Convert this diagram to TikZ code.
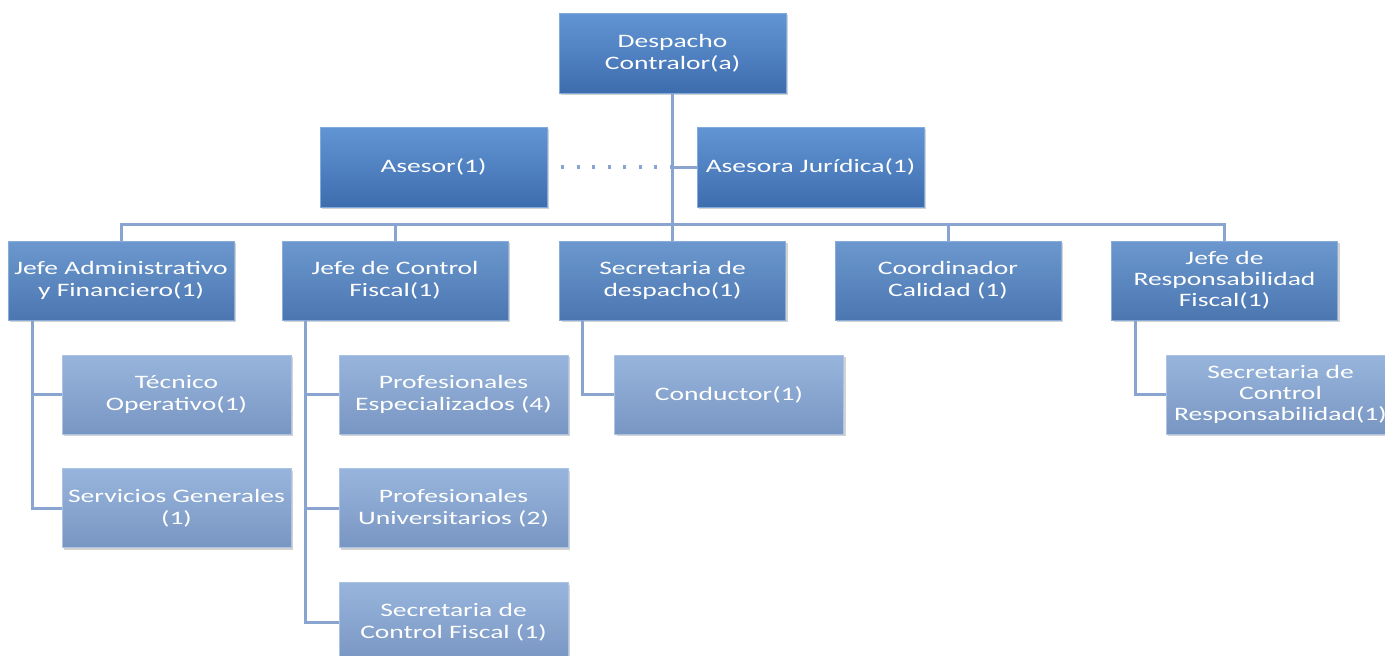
\documentclass[tikz,border=0pt]{standalone}
\usepackage{fontspec}
\setmainfont{Carlito}[FakeStretch=1.45]
\usetikzlibrary{shadows}

\definecolor{lineblue}{HTML}{8AA4D0}
\definecolor{topA}{HTML}{6295D4}
\definecolor{botA}{HTML}{3E6DAE}
\definecolor{topB}{HTML}{6C98CF}
\definecolor{botB}{HTML}{4B76B0}
\definecolor{topC}{HTML}{97B5DC}
\definecolor{botC}{HTML}{7896C2}

\tikzset{
  box/.style={align=center, text=white, inner sep=0pt,
    font=\fontsize{19}{22}\selectfont,
    drop shadow={shadow xshift=2pt, shadow yshift=-2pt, opacity=.35}},
  headbox/.style={box, minimum width=227pt, minimum height=80pt,
    top color=topA, bottom color=botA, draw=topA!80!white},
  chiefbox/.style={box, minimum width=226pt, minimum height=79pt,
    top color=topB, bottom color=botB, draw=topB!80!white},
  staffbox/.style={box, minimum width=229pt, minimum height=79pt,
    top color=topC, bottom color=botC, draw=topC!80!white},
  link/.style={draw=lineblue, line width=3pt},
}

\begin{document}
\begin{tikzpicture}[x=1pt, y=-1pt]
  \clip (0,0) rectangle (1385,656);
  \fill[white] (0,0) rectangle (1385,656);

  \node[headbox] (desp) at (672.5, 53) {Despacho\\Contralor(a)};
  \node[headbox] (ases) at (433.5, 167) {Asesor(1)};
  \node[headbox] (jur) at (810.5, 167) {Asesora Jurídica(1)};

  \node[chiefbox] (jadm) at (121, 280.5) {Jefe Administrativo\\y Financiero(1)};
  \node[chiefbox] (jcf) at (395, 280.5) {Jefe de Control\\Fiscal(1)};
  \node[chiefbox] (sdesp) at (672.5, 280.5) {Secretaria de\\despacho(1)};
  \node[chiefbox] (coord) at (948, 280.5) {Coordinador\\Calidad (1)};
  \node[chiefbox, font=\fontsize{19}{21}\selectfont] (jrf) at (1224.5, 280.5) {Jefe de\\Responsabilidad\\Fiscal(1)};

  \node[staffbox] (tec) at (176.5, 394.5) {Técnico\\Operativo(1)};
  \node[staffbox] (serv) at (176.5, 508) {Servicios Generales\\(1)};
  \node[staffbox] (pesp) at (453.5, 394.5) {Profesionales\\Especializados (4)};
  \node[staffbox] (puni) at (453.5, 508) {Profesionales\\Universitarios (2)};
  \node[staffbox] (scf) at (453.5, 622) {Secretaria de\\Control Fiscal (1)};
  \node[staffbox] (cond) at (729, 394.5) {Conductor(1)};
  \node[staffbox, font=\fontsize{19}{21}\selectfont] (scr) at (1280.5, 394.5) {Secretaria de\\Control\\Responsabilidad(1)};

  \coordinate (bus) at (672.5, 224);

  % despacho -> bus
  \draw[link] (desp.south) -- (bus);

  % asesor -> despacho line
  \draw[draw=lineblue, line width=3.5pt, dash pattern=on 3pt off 12.5pt] (ases.east) ++(14pt,0) -- (ases.east -| desp.south);

  % despacho line -> asesora
  \draw[link] (ases.east -| desp.south) -- (jur.west);

  % bus -> jefes
  \draw[link] (jadm.north) |- (bus) -| (jrf.north);
  \draw[link] (jcf.north) -- (jcf.north |- bus);
  \draw[link] (sdesp.north) -- (bus);
  \draw[link] (coord.north) -- (coord.north |- bus);

  % jefe administrativo -> staff
  \draw[link] ([xshift=25pt]jadm.south west) |- (tec.west);
  \draw[link] ([xshift=25pt]jadm.south west) |- (serv.west);

  % jefe control fiscal -> staff
  \draw[link] ([xshift=24pt]jcf.south west) |- (pesp.west);
  \draw[link] ([xshift=24pt]jcf.south west) |- (puni.west);
  \draw[link] ([xshift=24pt]jcf.south west) |- (scf.west);

  % secretaria de despacho -> conductor
  \draw[link] ([xshift=23pt]sdesp.south west) |- (cond.west);

  % jefe responsabilidad -> secretaria
  \draw[link] ([xshift=24pt]jrf.south west) |- (scr.west);
\end{tikzpicture}
\end{document}
